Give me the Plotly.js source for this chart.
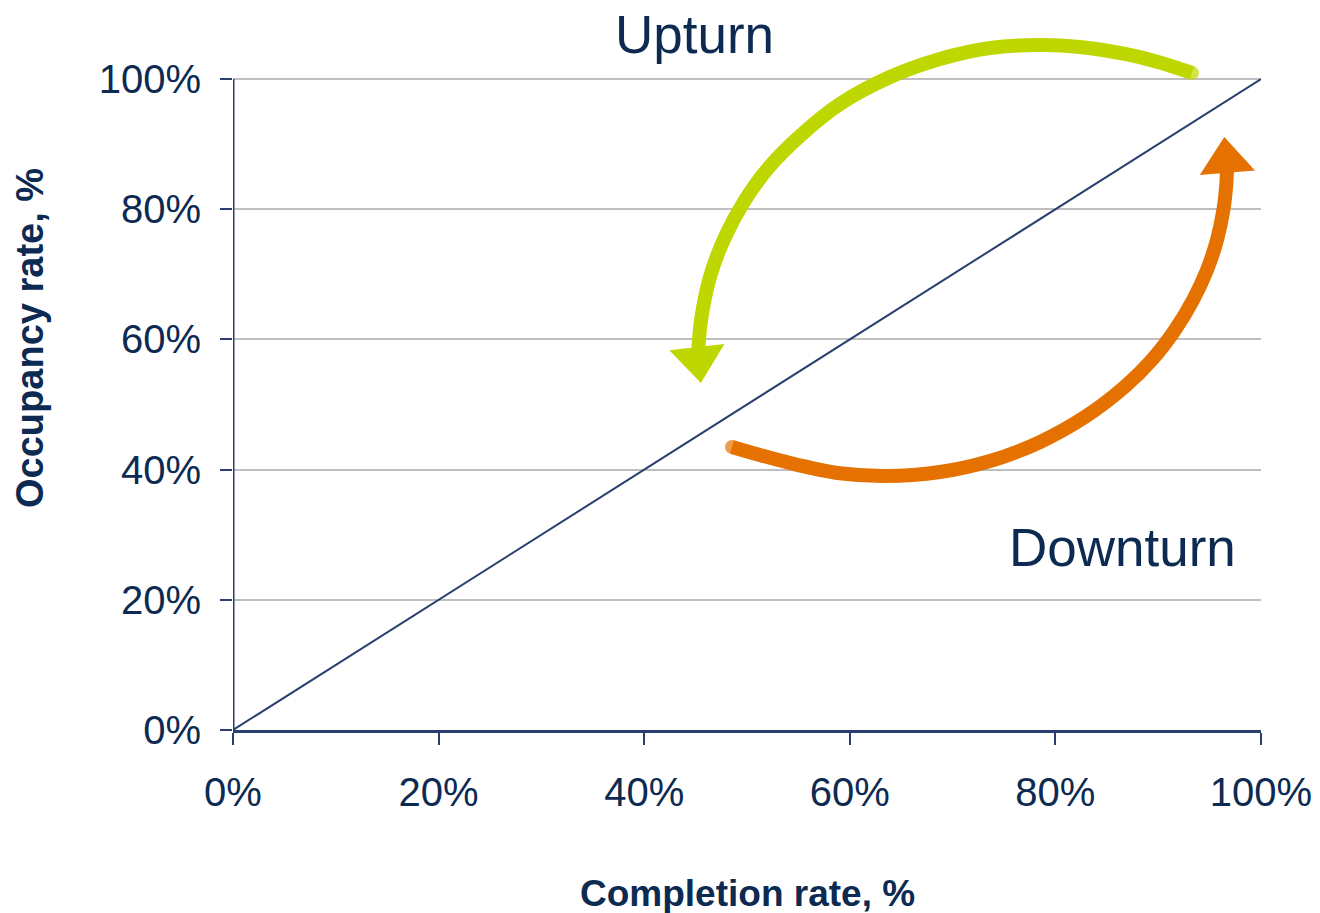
<!DOCTYPE html>
<html>
<head>
<meta charset="utf-8">
<script src="https://cdn.plot.ly/plotly-3.0.1.min.js"></script>
<style>html,body{margin:0;padding:0;background:#fff;}#chart{width:1320px;height:913px;}</style>
</head>
<body>
<div id="chart"></div>
<script>
// ---- data (percent) ----
const tickValues = [0, 20, 40, 60, 80, 100];
const tickLabels = ['0%', '20%', '40%', '60%', '80%', '100%'];

// 45-degree reference line
const diagCompletion = [0, 100];
const diagOccupancy = [0, 100];

// Upturn arc (green), from start to arrow base
const upturnCompletion = [93.29, 89.98, 86.77, 82.39, 78.50, 73.64, 68.77, 63.91, 59.05, 55.16, 52.24, 49.81, 47.86, 46.40, 45.53, 45.23];
const upturnOccupancy  = [100.94, 102.63, 103.86, 104.93, 105.24, 104.78, 103.09, 100.32, 96.18, 91.26, 86.65, 81.43, 75.74, 69.60, 62.99, 57.31];
const upturnTip = [45.62, 51.80];

// Downturn arc (orange), from start to arrow base
const downturnCompletion = [48.54, 54.18, 59.05, 63.42, 68.77, 73.64, 78.50, 82.88, 86.77, 89.34, 91.63, 93.39, 94.75, 95.72, 96.34, 96.62, 96.69];
const downturnOccupancy  = [43.48, 41.02, 39.44, 39.02, 39.64, 41.33, 44.24, 48.09, 52.77, 56.77, 61.45, 66.06, 70.67, 75.28, 79.89, 83.73, 86.34];
const downturnTip = [96.35, 92.64];

// ---- styling ----
const NAVY = '#0c2a52';
const AXIS = '#2a3f6e';
const GREEN = '#bfd700';
const ORANGE = '#e57200';
const FONT = 'Liberation Sans, Arial, Helvetica, sans-serif';

const W = 1320, H = 913;
const M = {l: 233, r: 59, t: 14, b: 183};
const xRange = [0, 100], yRange = [0, 110];
const pxX = (W - M.l - M.r) / (xRange[1] - xRange[0]);
const pxY = (H - M.t - M.b) / (yRange[1] - yRange[0]);

const HEAD_SIZE = 48;
function arrowHead(xs, ys, tip) {
  const n = xs.length;
  const dx = (tip[0] - xs[n - 1]) * pxX;
  const dy = -(tip[1] - ys[n - 1]) * pxY;
  const L = Math.hypot(dx, dy);
  const ux = dx / L, uy = dy / L;
  const r = HEAD_SIZE / 2;
  const back = 1.414 * r;
  return {
    x: tip[0] - back * ux / pxX,
    y: tip[1] + back * uy / pxY,
    angle: Math.atan2(ux, -uy) * 180 / Math.PI
  };
}

function arcTrace(xs, ys, color) {
  const sizes = xs.map((_, i) => (i === 0 ? 14 : 0));
  return {
    x: xs, y: ys, type: 'scatter', mode: 'lines+markers',
    line: {color: color, width: 14, shape: 'spline', smoothing: 1, simplify: false},
    marker: {color: color, size: sizes, line: {width: 0}},
    hoverinfo: 'skip', showlegend: false, cliponaxis: false
  };
}
function headTrace(xs, ys, tip, color) {
  const h = arrowHead(xs, ys, tip);
  return {
    x: [h.x], y: [h.y], type: 'scatter', mode: 'markers',
    marker: {symbol: 'triangle-up', size: HEAD_SIZE, color: color, angle: h.angle, line: {width: 0}},
    hoverinfo: 'skip', showlegend: false, cliponaxis: false
  };
}

const traces = [
  {x: diagCompletion, y: diagOccupancy, type: 'scatter', mode: 'lines',
   line: {color: AXIS, width: 2}, hoverinfo: 'skip', showlegend: false},
  arcTrace(upturnCompletion, upturnOccupancy, GREEN),
  headTrace(upturnCompletion, upturnOccupancy, upturnTip, GREEN),
  arcTrace(downturnCompletion, downturnOccupancy, ORANGE),
  headTrace(downturnCompletion, downturnOccupancy, downturnTip, ORANGE)
];

const layout = {
  width: W, height: H,
  margin: M,
  paper_bgcolor: '#ffffff', plot_bgcolor: '#ffffff',
  font: {family: FONT, color: NAVY},
  showlegend: false,
  xaxis: {
    range: xRange, fixedrange: true,
    tickmode: 'array', tickvals: tickValues, ticktext: tickLabels,
    tickfont: {family: FONT, size: 40, color: NAVY},
    ticks: 'outside', ticklen: 12, tickwidth: 2, tickcolor: AXIS,
    ticklabelstandoff: 13,
    showline: true, linecolor: AXIS, linewidth: 3,
    showgrid: false, zeroline: false
  },
  yaxis: {
    range: yRange, fixedrange: true,
    tickmode: 'array', tickvals: tickValues, ticktext: tickLabels,
    tickfont: {family: FONT, size: 40, color: NAVY},
    ticks: 'outside', ticklen: 12, tickwidth: 2, tickcolor: AXIS,
    ticklabelstandoff: 11,
    showline: false,
    showgrid: true, gridcolor: '#bfbfbf', gridwidth: 2,
    zeroline: false
  },
  shapes: [
    {type: 'line', xref: 'x', yref: 'y', x0: 0, x1: 0, y0: 0, y1: tickValues[tickValues.length - 1],
     line: {color: AXIS, width: 3}, layer: 'above'}
  ],
  annotations: [
    {text: 'Upturn', xref: 'x', yref: 'y', x: 44.9, y: 106.8, showarrow: false,
     xanchor: 'center', yanchor: 'middle', font: {family: FONT, size: 53, color: NAVY}},
    {text: 'Downturn', xref: 'x', yref: 'y', x: 86.5, y: 28.0, showarrow: false,
     xanchor: 'center', yanchor: 'middle', font: {family: FONT, size: 53, color: NAVY}},
    {text: '<b>Completion rate, %</b>', xref: 'paper', yref: 'paper', x: 0.5, y: -0.2277,
     showarrow: false, xanchor: 'center', yanchor: 'middle',
     font: {family: FONT, size: 37, color: NAVY}},
    {text: '<b>Occupancy rate, %</b>', xref: 'paper', yref: 'paper', x: -0.1975, y: 0.5475,
     showarrow: false, xanchor: 'center', yanchor: 'middle', textangle: -90,
     font: {family: FONT, size: 38, color: NAVY}}
  ]
};

Plotly.newPlot('chart', traces, layout, {displayModeBar: false, staticPlot: true});
</script>
</body>
</html>
